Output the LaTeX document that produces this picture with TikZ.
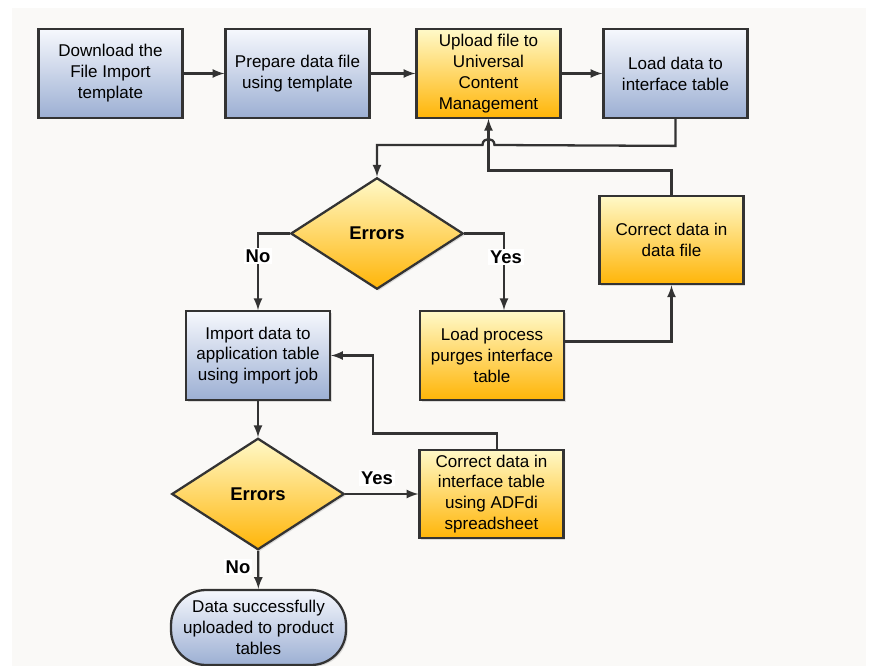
\documentclass[tikz,border=0pt]{standalone}
\usepackage{fontspec}
\setmainfont{Liberation Sans}
\usetikzlibrary{shapes.geometric,shadows}
\definecolor{edge}{HTML}{333333}
\definecolor{paper}{HTML}{FAF9F7}
\definecolor{blueTop}{HTML}{F6F8FD}
\definecolor{blueBot}{HTML}{9CAFD3}
\definecolor{orangeTop}{HTML}{FFF9C8}
\definecolor{orangeBot}{HTML}{FFB508}
\begin{document}
\begin{tikzpicture}[>=latex, x=0.02cm, y=-0.02cm, font=\fontsize{9.7}{11.9}\selectfont]
	\tikzset{
		base/.style={draw=edge, line width=1.3pt, align=center, inner sep=2pt,
				drop shadow={opacity=0.25, shadow xshift=1pt, shadow yshift=-1pt}},
		bluebox/.style={base, rectangle, top color=blueTop, bottom color=blueBot,
				minimum width=2.88cm, minimum height=1.77cm},
		orangebox/.style={base, rectangle, top color=orangeTop, bottom color=orangeBot,
				minimum width=2.88cm, minimum height=1.77cm},
		decision/.style={base, diamond, top color=orangeTop, bottom color=orangeBot,
				minimum width=3.45cm, minimum height=2.23cm,
				font=\fontsize{10.5}{12}\selectfont\bfseries},
		ending/.style={bluebox, rounded corners=0.7cm, minimum width=3.5cm, minimum height=1.5cm},
		link/.style={->, draw=edge, line width=1.3pt},
		answer/.style={fill=white, inner sep=1pt, font=\fontsize{10.5}{12}\selectfont\bfseries}
	}
	\useasboundingbox (0,0) rectangle (869,666);
	\fill[paper] (12,8) rectangle (866,666);

	% top row
	\node[bluebox] (dl) at (110.5,73.5) {Download the\\File Import\\template};
	\node[bluebox] (prep) at (297.5,73.5) {Prepare data file\\using template};
	\node[orangebox] (upl) at (488.5,73.5) {Upload file to\\Universal\\Content\\Management};
	\node[bluebox] (load) at (675.5,73.5) {Load data to\\interface table};

	% first check
	\node[decision] (err1) at (377,233.5) {Errors};
	\node[orangebox] (fixfile) at (671.5,240) {Correct data in\\data file};
	\node[bluebox] (imp) at (258,355.5) {Import data to\\application table\\using import job};
	\node[orangebox] (purge) at (492,355.5) {Load process\\purges interface\\table};

	% second check
	\node[decision] (err2) at (258,494) {Errors};
	\node[orangebox] (fixint) at (491.5,494) {Correct data in\\interface table\\using ADFdi\\spreadsheet};
	\node[ending] (done) at (258.5,627.5) {Data successfully\\uploaded to product\\tables};

	\draw[link] (dl) -- (prep);
	\draw[link] (prep) -- (upl);
	\draw[link] (upl) -- (load);
	\draw[link] (load.south) -- ++(0,27) -- (494.5,145)
		.. controls (494.5,137) and (482.5,137) .. (482.5,145) -| (err1.north);
	\draw[link] (fixfile.north) -- ++(0,-24) -| (upl.south);
	\draw[link] (err1.west) -| (imp.north);
	\draw[link] (err1.east) -| ([xshift=0.24cm]purge.north);
	\draw[link] ([yshift=0.28cm]purge.east) -| (fixfile.south);
	\draw[link] (imp) -- (err2);
	\draw[link] (err2.east) -- (fixint.west);
	\draw[link] ([xshift=0.11cm]fixint.north) -- ++(0,-15) -- ++(-124,0) |- (imp.east);
	\draw[link] (err2) -- (done);

	\node[answer] (no1) at (258,256) {No};
	\node[answer] (yes1) at (506,257) {Yes};
	\node[answer] (yes2) at (377,478) {Yes};
	\node[answer] (no2) at (238,567) {No};

\end{tikzpicture}
\end{document}
